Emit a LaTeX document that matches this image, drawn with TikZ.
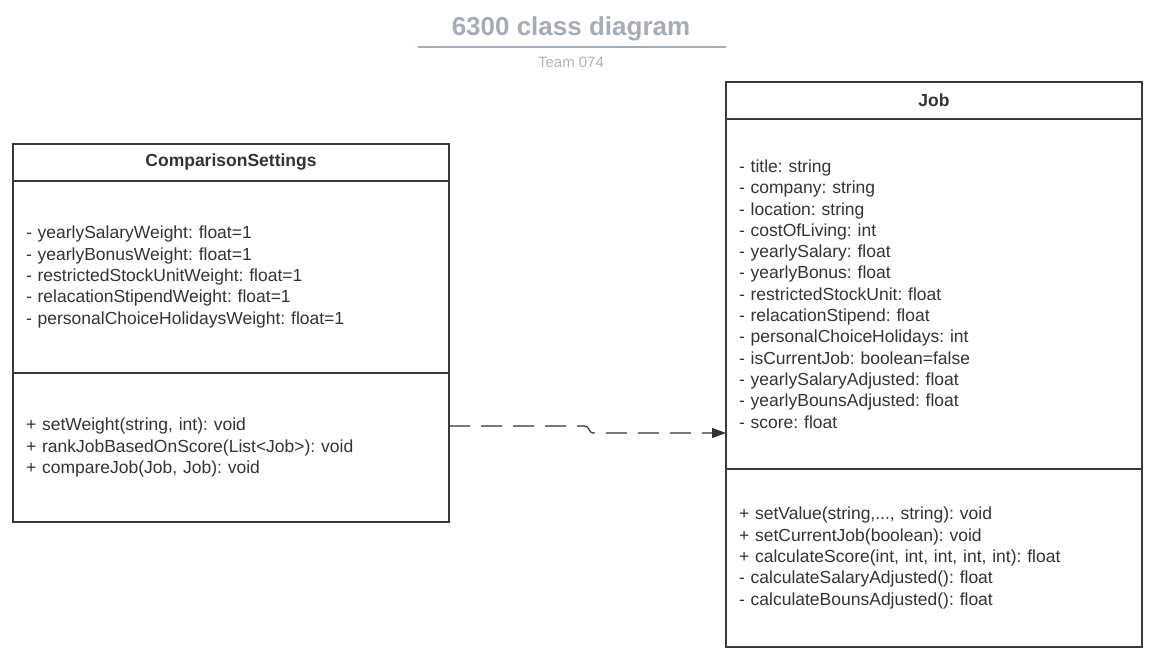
\documentclass[tikz,border=0pt]{standalone}
\usepackage{fontspec}
\setmainfont{Liberation Sans}
\usetikzlibrary{positioning,arrows.meta}
\definecolor{umlline}{HTML}{3A3A3A}
\definecolor{umltext}{HTML}{333333}
\definecolor{titlegray}{HTML}{A6ACB6}
\definecolor{subgray}{HTML}{AEB3BB}
\frenchspacing

\begin{document}
\begin{tikzpicture}[x=1pt,y=-1pt,
  classhead/.style={draw=umlline,line width=1.6pt,rectangle,inner sep=0pt,outer sep=0pt,text=umltext,font=\bfseries\fontsize{17.5}{20}\selectfont,anchor=north west},
  classpart/.style={draw=umlline,line width=1.6pt,rectangle,inner xsep=13pt,inner ysep=0pt,outer sep=0pt,text=umltext,align=left,font=\fontsize{17.5}{21.3}\selectfont},
  dep/.style={draw=umltext,line width=1.2pt,dash pattern=on 21pt off 11pt,-{Triangle[length=14pt,width=10pt]}}]
\useasboundingbox (0,0) rectangle (1171,661);
\node[font=\bfseries\fontsize{26}{30}\selectfont,text=titlegray] (title) at (571,29) {6300 class diagram};
\node[font=\fontsize{15}{17}\selectfont,text=subgray] (team) at (571,62) {Team 074};
\draw[titlegray,line width=2pt] (418,47) -- (726,47);
\node[classhead,minimum width=436,minimum height=37] (cmpHead) at (13,144) {ComparisonSettings};
\node[classpart,text width=410pt,minimum height=192,below=0pt of cmpHead] (cmpAttr) {- yearlySalaryWeight: float=1\\- yearlyBonusWeight: float=1\\- restrictedStockUnitWeight: float=1\\- relacationStipendWeight: float=1\\- personalChoiceHolidaysWeight: float=1};
\node[classpart,text width=410pt,minimum height=149,below=0pt of cmpAttr] (cmpMeth) {+ setWeight(string, int): void\\+ rankJobBasedOnScore(List<Job>): void\\+ compareJob(Job, Job): void};
\node[classhead,minimum width=416,minimum height=37] (jobHead) at (726,82) {Job};
\node[classpart,text width=390pt,minimum height=350,below=0pt of jobHead] (jobAttr) {- title: string\\- company: string\\- location: string\\- costOfLiving: int\\- yearlySalary: float\\- yearlyBonus: float\\- restrictedStockUnit: float\\- relacationStipend: float\\- personalChoiceHolidays: int\\- isCurrentJob: boolean=false\\- yearlySalaryAdjusted: float\\- yearlyBounsAdjusted: float\\- score: float};
\node[classpart,text width=390pt,minimum height=178,below=0pt of jobAttr] (jobMeth) {+ setValue(string,..., string): void\\+ setCurrentJob(boolean): void\\+ calculateScore(int, int, int, int, int): float\\- calculateSalaryAdjusted(): float\\- calculateBounsAdjusted(): float};
\draw[dep] ([yshift=21.5pt]cmpMeth.east) -- ++(136,0) to[out=0,in=180] ++(8,7) -- ([yshift=-139pt]jobAttr.west);
\end{tikzpicture}
\end{document}
